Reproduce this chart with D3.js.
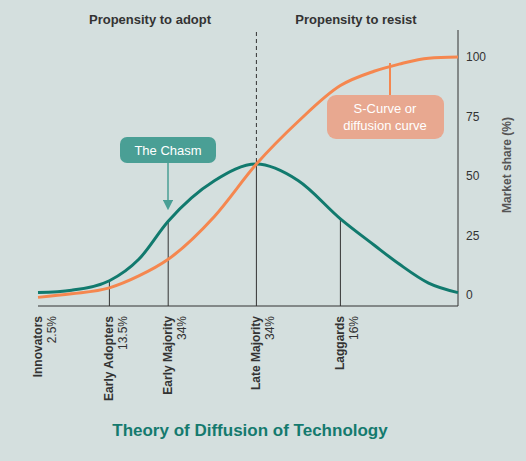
<!DOCTYPE html>
<meta charset="utf-8">
<style>
body { margin: 0; background: #d4dfde; }
text { font-family: "Liberation Sans", Arial, sans-serif; }
.axis path, .axis line { stroke: #333; }
.axis text { font-size: 12px; fill: #333; }
</style>
<svg width="526" height="461"></svg>
<script src="https://d3js.org/d3.v7.min.js"></script>
<script>

const svg = d3.select("svg");

// adoption time (0-100) and curve values (market share %)
const xs = [0, 8, 17, 24, 31, 42, 52, 62, 72, 80, 86, 93, 100];
const bell = [1, 2, 6, 15, 31, 48, 55, 48, 32, 21, 13, 5, 1];
const sCurve = [-1, 0.5, 3, 8, 15, 33, 55, 73, 88, 94, 97, 99.5, 100];

const groups = ["Innovators", "Early Adopters", "Early Majority", "Late Majority", "Laggards"];
const shares = ["2.5%", "13.5%", "34%", "34%", "16%"];
const groupX = [0, 17, 31, 52, 72];
const yTicks = [0, 25, 50, 75, 100];

const teal = "#117a6e", orange = "#f5874f";

const xScale = d3.scaleLinear().domain([0, 100]).range([38, 458]);
const yScale = d3.scaleLinear().domain([0, 100]).range([295, 57]);
const baseY = 306;

const line = d3.line().curve(d3.curveMonotoneX).x((d, i) => xScale(xs[i])).y(d => yScale(d));

// right axis
svg.append("g")
    .attr("class", "axis")
    .attr("transform", "translate(458,0)")
    .call(d3.axisRight(yScale).tickValues(yTicks).tickSize(0).tickPadding(8))
    .call(g => g.select(".domain").remove());
svg.append("line").attr("x1", 458).attr("x2", 458).attr("y1", 30).attr("y2", baseY).attr("stroke", "#333");
svg.append("line").attr("x1", 38).attr("x2", 458).attr("y1", baseY).attr("y2", baseY).attr("stroke", "#333");

svg.append("text")
    .attr("transform", "translate(511,165) rotate(-90)")
    .attr("text-anchor", "middle")
    .attr("font-size", 12).attr("font-weight", "bold").attr("fill", "#555")
    .text("Market share (%)");

// group dividers
const bellAt = v => bell[xs.indexOf(v)];
groupX.slice(1).forEach(v => {
  svg.append("line")
      .attr("x1", xScale(v)).attr("x2", xScale(v))
      .attr("y1", baseY).attr("y2", yScale(bellAt(v)))
      .attr("stroke", "#333");
});
svg.append("line")
    .attr("x1", xScale(52)).attr("x2", xScale(52))
    .attr("y1", 32).attr("y2", yScale(55))
    .attr("stroke", "#333").attr("stroke-dasharray", "4,3");

svg.append("text").attr("x", 150).attr("y", 24).attr("text-anchor", "middle")
    .attr("font-size", 13).attr("font-weight", "bold").attr("fill", "#333").text("Propensity to adopt");
svg.append("text").attr("x", 356).attr("y", 24).attr("text-anchor", "middle")
    .attr("font-size", 13).attr("font-weight", "bold").attr("fill", "#333").text("Propensity to resist");

// curves
svg.append("path").datum(bell).attr("d", line)
    .attr("fill", "none").attr("stroke", teal).attr("stroke-width", 3);
svg.append("path").datum(sCurve).attr("d", line)
    .attr("fill", "none").attr("stroke", orange).attr("stroke-width", 3);

// group labels
groups.forEach((name, i) => {
  const x = xScale(groupX[i]);
  svg.append("text")
      .attr("transform", `translate(${x + 4},316) rotate(-90)`)
      .attr("text-anchor", "end")
      .attr("font-size", 12).attr("font-weight", "bold").attr("fill", "#333")
      .text(name);
  svg.append("text")
      .attr("transform", `translate(${x + 18},316) rotate(-90)`)
      .attr("text-anchor", "end")
      .attr("font-size", 12).attr("fill", "#333")
      .text(shares[i]);
});

// callouts
svg.append("defs").append("marker")
    .attr("id", "arr").attr("viewBox", "0 0 10 10").attr("refX", 5).attr("refY", 5)
    .attr("markerWidth", 7).attr("markerHeight", 7).attr("orient", "auto")
    .append("path").attr("d", "M0,0L10,5L0,10z").attr("fill", "#4a9f95");
svg.append("line").attr("x1", 168).attr("x2", 168).attr("y1", 162).attr("y2", 205)
    .attr("stroke", "#4a9f95").attr("stroke-width", 1.5).attr("marker-end", "url(#arr)");
svg.append("rect").attr("x", 120).attr("y", 137).attr("width", 96).attr("height", 26).attr("rx", 7)
    .attr("fill", "#4a9f95");
svg.append("text").attr("x", 168).attr("y", 155).attr("text-anchor", "middle")
    .attr("font-size", 13).attr("fill", "#fff").text("The Chasm");

svg.append("line").attr("x1", 390).attr("x2", 390).attr("y1", 96).attr("y2", 63)
    .attr("stroke", orange).attr("stroke-width", 2);
svg.append("rect").attr("x", 327).attr("y", 95).attr("width", 117).attr("height", 44).attr("rx", 9)
    .attr("fill", "#e8a890");
svg.append("text").attr("x", 385).attr("y", 113).attr("text-anchor", "middle")
    .attr("font-size", 13).attr("fill", "#fff").text("S-Curve or");
svg.append("text").attr("x", 385).attr("y", 130).attr("text-anchor", "middle")
    .attr("font-size", 13).attr("fill", "#fff").text("diffusion curve");

svg.append("text").attr("x", 250).attr("y", 436).attr("text-anchor", "middle")
    .attr("font-size", 17).attr("font-weight", "bold").attr("fill", "#147a6e")
    .text("Theory of Diffusion of Technology");

</script>
